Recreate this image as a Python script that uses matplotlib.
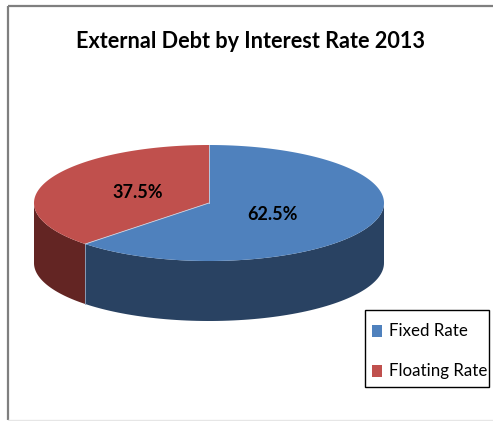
import numpy as np
import matplotlib
matplotlib.use("Agg")
import matplotlib.pyplot as plt
from matplotlib.patches import Polygon, Rectangle

# Data
categories = ["Fixed Rate", "Floating Rate"]
shares = [62.5, 37.5]
top_colors = ["#4F81BD", "#C0504D"]
side_colors = ["#294262", "#632523"]
title = "External Debt by Interest Rate 2013"

FONT = "Lato"

W, H = 493, 421
fig = plt.figure(figsize=(W / 100, H / 100), dpi=100)
ax = fig.add_axes([0, 0, 1, 1])
ax.set_xlim(0, W)
ax.set_ylim(H, 0)
ax.axis("off")

# chart frame
ax.plot([8, 8], [6, 420], color="#7F7F7F", lw=1.6, solid_capstyle="butt")
ax.plot([8, W], [6, 6], color="#7F7F7F", lw=1.6, solid_capstyle="butt")
ax.plot([8, W], [420, 420], color="#E6E6E6", lw=1.0)

ax.text(251, 41, title, ha="center", va="center", fontsize=15.6,
        fontweight="bold", family=FONT, color="black")

# 3-D pie geometry (pixel units)
cx, cy = 209, 203
rx, ry = 175, 58
depth = 60


def pt(a_deg, dy=0.0):
    a = np.radians(a_deg)
    return cx + rx * np.cos(a), cy - ry * np.sin(a) + dy


# slices run clockwise from 12 o'clock
start = 90.0
spans = []
for v in shares:
    sweep = 360.0 * v / sum(shares)
    spans.append((start - sweep, start))
    start -= sweep

# side walls (front half only: angles 180..360)
for (a0, a1), sc in zip(spans, side_colors):
    lo, hi = a0 % 360, a1 % 360
    if hi <= lo:
        hi += 360
    segs = []
    for base in (0, 360, -360):
        s0 = max(lo, 180 + base)
        s1 = min(hi, 360 + base)
        if s1 > s0:
            segs.append((s0, s1))
    for s0, s1 in segs:
        ang = np.linspace(s0, s1, 80)
        top = [pt(a) for a in ang]
        bot = [pt(a, depth) for a in ang[::-1]]
        ax.add_patch(Polygon(top + bot, closed=True, facecolor=sc,
                             edgecolor="none", zorder=2))

# seam between side walls
sx, sy = pt(spans[0][0])
ax.plot([sx, sx], [sy, sy + depth], color="#8FA3BF", lw=0.6, zorder=3)

# top faces
for (a0, a1), tc in zip(spans, top_colors):
    ang = np.linspace(a0, a1, 200)
    poly = [(cx, cy)] + [pt(a) for a in ang]
    ax.add_patch(Polygon(poly, closed=True, facecolor=tc,
                         edgecolor="none", zorder=4))
for a in (spans[0][0], spans[0][1]):
    x, y = pt(a)
    ax.plot([cx, x], [cy, y], color="#C9D3E3", lw=0.6, zorder=5)

# value labels
for v, pos in zip(shares, [(272, 215), (138, 193)]):
    ax.text(pos[0], pos[1], f"{v:.1f}%", ha="center", va="center",
            fontsize=13, fontweight="bold", family=FONT, zorder=6)

# legend
ax.add_patch(Rectangle((365, 310), 124, 77, facecolor="white",
                       edgecolor="black", lw=1.0, zorder=6))
for i, (lab, c) in enumerate(zip(categories, top_colors)):
    yy = 331 + i * 40
    ax.add_patch(Rectangle((372, yy - 6), 10, 12, facecolor=c,
                           edgecolor="none", zorder=7))
    ax.text(389, yy, lab, ha="left", va="center", fontsize=12.2,
            family=FONT, zorder=7)

fig.savefig("out.png", dpi=100)
